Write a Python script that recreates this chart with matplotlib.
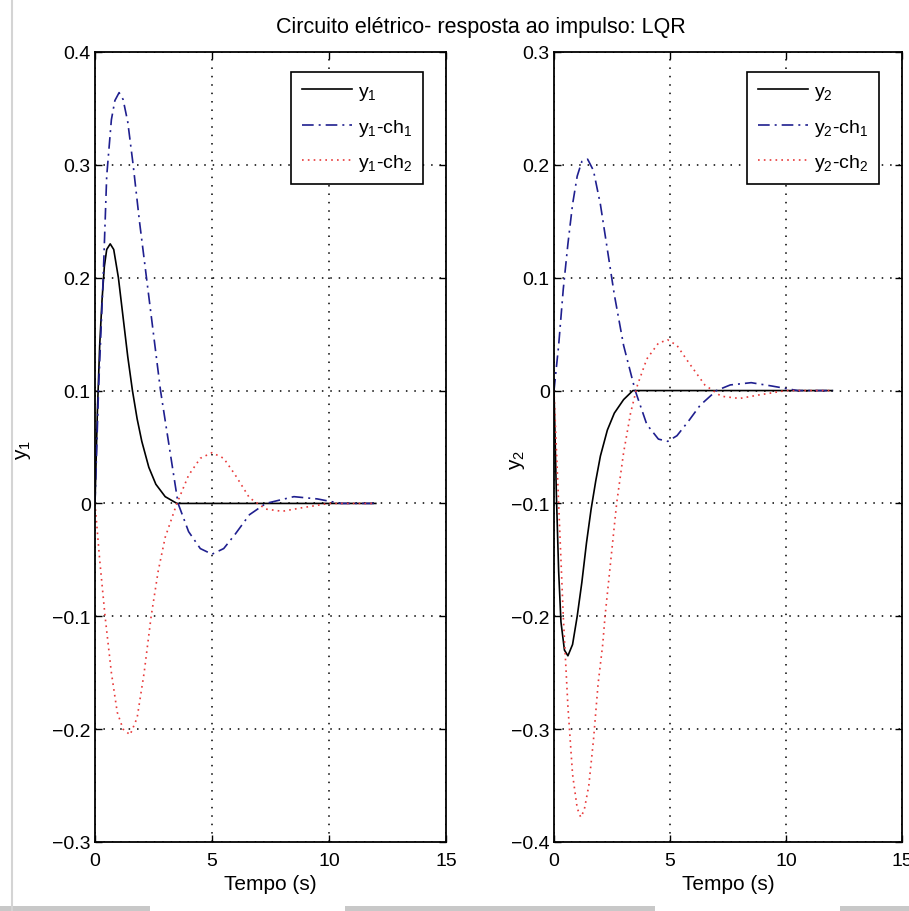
import matplotlib
matplotlib.use("Agg")
import matplotlib.pyplot as plt
from matplotlib.patches import Rectangle
from matplotlib.lines import Line2D

plt.rcParams['font.family'] = ['Liberation Sans', 'DejaVu Sans']
plt.rcParams['mathtext.fontset'] = 'custom'
plt.rcParams['mathtext.rm'] = 'Liberation Sans'
plt.rcParams['mathtext.it'] = 'Liberation Sans'

# impulse response, output 1 (LQR and the two alternative controllers)
t_y1 = [0, 0.1, 0.2, 0.3, 0.4, 0.5, 0.65, 0.8, 1.0, 1.2, 1.4, 1.6, 1.8, 2.0, 2.3, 2.6, 3.0, 3.5, 4.0, 12]
y1 = [0, 0.08, 0.14, 0.18, 0.21, 0.225, 0.23, 0.225, 0.20, 0.165, 0.13, 0.10, 0.075, 0.055, 0.032, 0.017, 0.006, 0.0, 0, 0]

t_y1_ch1 = [0, 0.15, 0.35, 0.5, 0.7, 0.85, 1.03, 1.2, 1.4, 1.63, 1.9, 2.2, 2.5, 2.8, 3.1, 3.55, 4.0, 4.5,
            5.0, 5.5, 6.0, 6.6, 7.3, 8.5, 9.5, 10.5, 12]
y1_ch1 = [0, 0.1, 0.2, 0.29, 0.34, 0.357, 0.364, 0.358, 0.338, 0.3, 0.25, 0.2, 0.15, 0.1, 0.06, 0.0, -0.025, -0.04,
          -0.045, -0.04, -0.027, -0.01, 0.0, 0.006, 0.004, 0.0, 0.0]

t_y1_ch2 = [0, 0.2, 0.43, 0.7, 0.95, 1.2, 1.5, 1.8, 2.1, 2.4, 2.7, 3.0, 3.5, 4.0, 4.5, 5.0, 5.5, 6.0,
            6.6, 7.3, 8.0, 8.8, 10, 12]
y1_ch2 = [0, -0.05, -0.1, -0.15, -0.185, -0.2, -0.205, -0.19, -0.15, -0.1, -0.06, -0.03, 0.0, 0.025, 0.04, 0.045,
          0.04, 0.025, 0.005, -0.005, -0.007, -0.004, 0.0, 0.0]

# impulse response, output 2
t_y2 = [0, 0.1, 0.2, 0.3, 0.45, 0.6, 0.8, 1.0, 1.2, 1.4, 1.6, 1.8, 2.0, 2.3, 2.6, 3.0, 3.4, 4.0, 12]
y2 = [0, -0.09, -0.16, -0.205, -0.23, -0.235, -0.225, -0.2, -0.17, -0.135, -0.105, -0.08, -0.058, -0.035,
      -0.02, -0.008, 0, 0, 0]

t_y2_ch1 = [0, 0.2, 0.4, 0.6, 0.8, 1.0, 1.2, 1.45, 1.7, 2.0, 2.3, 2.6, 3.0, 3.5, 4.0, 4.5, 4.9, 5.3,
            5.8, 6.3, 7.0, 7.6, 8.5, 9.4, 10.5, 12]
y2_ch1 = [0, 0.04, 0.09, 0.13, 0.165, 0.19, 0.203, 0.205, 0.195, 0.165, 0.125, 0.085, 0.04, 0.0, -0.03, -0.043,
          -0.045, -0.04, -0.027, -0.013, 0.0, 0.005, 0.007, 0.004, 0.0, 0.0]

t_y2_ch2 = [0, 0.2, 0.4, 0.6, 0.8, 1.0, 1.15, 1.3, 1.5, 1.7, 1.9, 2.1, 2.2, 2.45, 2.7, 3.0, 3.3, 3.6, 4.0,
            4.5, 4.9, 5.3, 5.8, 6.5, 7.2, 8.0, 8.8, 10, 12]
y2_ch2 = [0, -0.1, -0.2, -0.28, -0.34, -0.37, -0.378, -0.372, -0.35, -0.31, -0.26, -0.225, -0.2, -0.15, -0.1,
          -0.055, -0.02, 0.005, 0.028, 0.042, 0.045, 0.04, 0.025, 0.005, -0.005, -0.007, -0.004, 0.0, 0.0]

x_ticks = [0, 5, 10, 15]
y1_ticks = [-0.3, -0.2, -0.1, 0, 0.1, 0.2, 0.3, 0.4]
y2_ticks = [-0.4, -0.3, -0.2, -0.1, 0, 0.1, 0.2, 0.3]
labels1 = ['y$_1$', 'y$_1$-ch$_1$', 'y$_1$-ch$_2$']
labels2 = ['y$_2$', 'y$_2$-ch$_1$', 'y$_2$-ch$_2$']

FS = 14
BLUE = '#1f1f8f'
RED = '#e83a3a'


def tick_text(v):
    if v == 0:
        return '0'
    return ('%g' % v).replace('-', '\u2212')


def draw_panel(ax, curves, labels, yticks, ylabel, ylab_x, ylab_y):
    (ta, ya), (tb, yb), (tc, yc) = curves
    ax.plot(ta, ya, color='black', lw=1.2, ls='-', label=labels[0])
    ax.plot(tb, yb, color=BLUE, lw=1.2, ls=(0, (7, 3, 1.2, 3)), label=labels[1])
    ax.plot(tc, yc, color=RED, lw=1.2, ls=(0, (1, 2.5)), label=labels[2])
    ax.set_xlim(0, 15)
    ax.set_ylim(yticks[0], yticks[-1])
    ax.set_xticks(x_ticks)
    ax.set_xticklabels([tick_text(v) for v in x_ticks], fontsize=FS)
    ax.set_yticks(yticks)
    ax.set_yticklabels([tick_text(v) for v in yticks], fontsize=FS)
    ax.grid(True, color='black', ls=(0, (1, 4.5)), lw=1.1)
    ax.tick_params(direction='in', top=True, right=True, length=5, width=1, pad=3)
    ax.tick_params(axis='x', pad=7)
    for s in ax.spines.values():
        s.set_linewidth(1.3)
    ax.set_xlabel('Tempo (s)', fontsize=FS + 1, labelpad=4)
    ax.set_ylabel(ylabel, fontsize=FS + 1)
    ax.yaxis.set_label_coords(ylab_x, ylab_y)
    leg = ax.legend(loc='upper right', bbox_to_anchor=(0.934, 0.975), borderaxespad=0,
                    fontsize=FS, handlelength=2.6, labelspacing=0.75, handletextpad=0.3,
                    borderpad=0.55, fancybox=False, framealpha=1, edgecolor='black')
    leg.get_frame().set_linewidth(1.2)


fig = plt.figure(figsize=(9.09, 9.12), dpi=100)
ax1 = fig.add_axes([95 / 909, 1 - 843 / 912, 351 / 909, 790 / 912])
ax2 = fig.add_axes([554 / 909, 1 - 843 / 912, 348 / 909, 790 / 912])

draw_panel(ax1, [(t_y1, y1), (t_y1_ch1, y1_ch1), (t_y1_ch2, y1_ch2)], labels1, y1_ticks, 'y$_1$',
           -0.177, 0.497)
draw_panel(ax2, [(t_y2, y2), (t_y2_ch1, y2_ch1), (t_y2_ch2, y2_ch2)], labels2, y2_ticks, 'y$_2$',
           -0.078, 0.485)

fig.text(481 / 909, 1 - 28 / 912, 'Circuito elétrico- resposta ao impulso: LQR',
         ha='center', va='center', fontsize=FS + 1.5)

# window edge and status strip along the bottom
fig.add_artist(Line2D([12 / 909, 12 / 909], [0, 1], color='#d4d4d4', lw=1.5))
for x0, x1 in [(0, 150), (345, 655), (840, 909)]:
    fig.add_artist(Rectangle((x0 / 909, 0), (x1 - x0) / 909, 5 / 912,
                             color='#c8c8c8', lw=0))

fig.savefig('out.png', dpi=100)
